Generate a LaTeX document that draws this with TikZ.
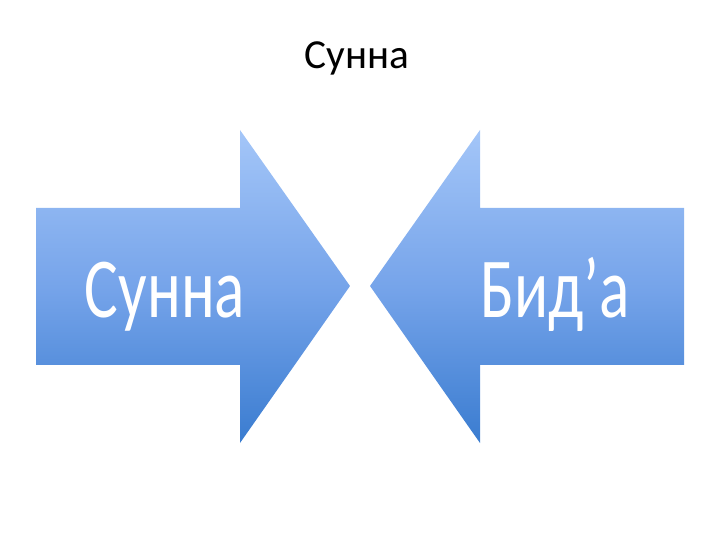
\documentclass[tikz,border=0pt]{standalone}
\usepackage{fontspec}
\setmainfont{Carlito}

\definecolor{arrowtop}{RGB}{164,198,248}
\definecolor{arrowmid}{RGB}{118,164,234}
\definecolor{arrowbot}{RGB}{58,124,208}

\begin{document}
\begin{tikzpicture}[x=0.02cm,y=-0.02cm,
    big arrow/.style={top color=arrowtop,bottom color=arrowbot,middle color=arrowmid,draw=none},
    title text/.style={anchor=base,font=\fontsize{23.5}{28}\selectfont,text=black},
    arrow text/.style={anchor=base,font=\fontsize{36}{42}\selectfont,text=white,yscale=1.35}]
                \useasboundingbox (0,0) rectangle (720,540);

                % left arrow
                \path[big arrow] (36,208) -- (240,208) -- (240,130) -- (350,286)
                    -- (240,443) -- (240,365) -- (36,365) -- cycle;
                % right arrow
                \path[big arrow] (684,208) -- (480,208) -- (480,130) -- (370,286)
                    -- (480,443) -- (480,365) -- (684,365) -- cycle;

                \node[title text] (title) at (357,69) {Сунна};
                \node[arrow text] (sunna) at (165,318) {Сунна};
                \node[arrow text] (bida) at (555,318) {Бид’а};

            \end{tikzpicture}
\end{document}
